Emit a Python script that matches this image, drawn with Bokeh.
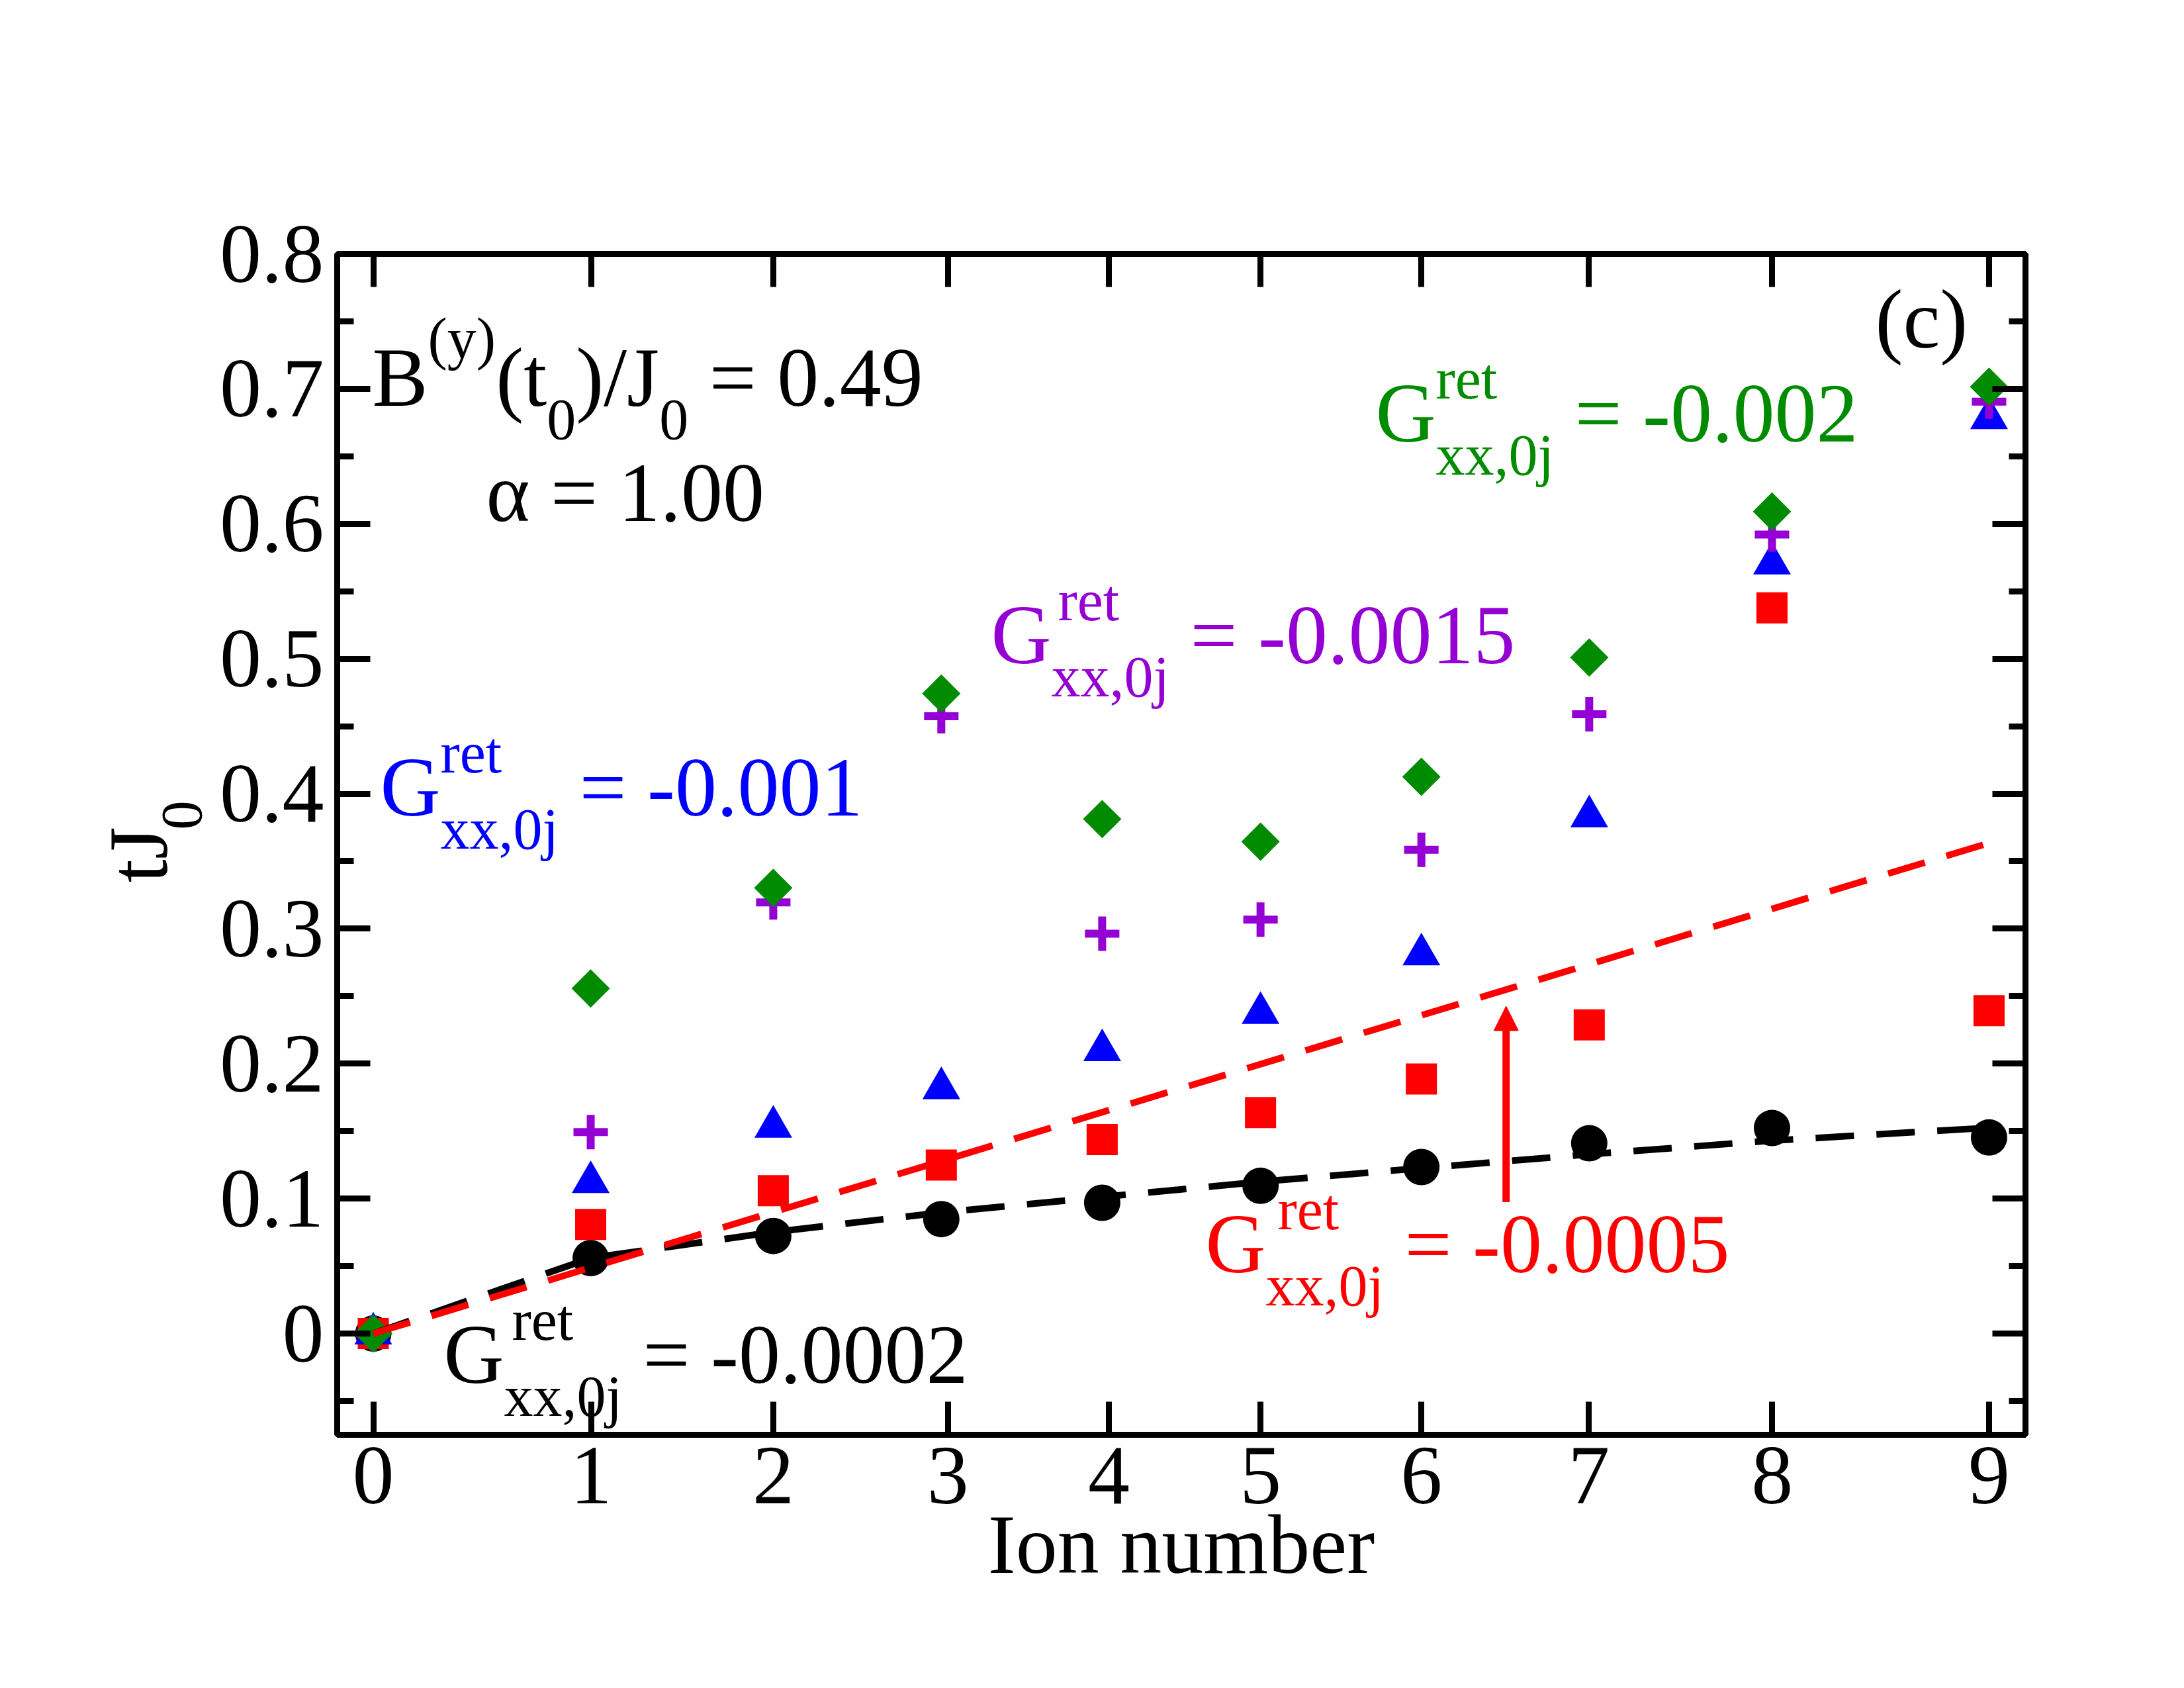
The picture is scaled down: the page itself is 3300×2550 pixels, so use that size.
import math
from bokeh.plotting import figure
from bokeh.models import (Range1d, FixedTicker, LinearAxis, Label, Arrow,
                          NormalHead, CustomJSTickFormatter)
from bokeh.embed import file_html
from bokeh.resources import INLINE

# ---------------- data ----------------
ion_positions = [0.0, 1.211, 2.228, 3.164, 4.060, 4.942, 5.838, 6.773, 7.791, 9.0]
tick_positions = [0.0, 1.213, 2.228, 3.201, 4.097, 4.942, 5.838, 6.771, 7.792, 9.0]
tick_labels = ["0", "1", "2", "3", "4", "5", "6", "7", "8", "9"]

y_ticks = [0.0, 0.1, 0.2, 0.3, 0.4, 0.5, 0.6, 0.7, 0.8]
y_tick_labels = ["0", "0.1", "0.2", "0.3", "0.4", "0.5", "0.6", "0.7", "0.8"]
y_minor_ticks = [-0.05, 0.05, 0.15, 0.25, 0.35, 0.45, 0.55, 0.65, 0.75]

t_g0002 = [0.0, 0.0559, 0.0723, 0.0848, 0.0969, 0.1095, 0.1234, 0.1410, 0.1523, 0.1453]
t_g0005 = [0.0, 0.0809, 0.1059, 0.1249, 0.1438, 0.1637, 0.1886, 0.2287, 0.5377, 0.2393]
t_g0010 = [0.0, 0.1122, 0.1532, 0.1818, 0.2099, 0.2375, 0.2809, 0.3832, 0.5705, 0.6782]
t_g0015 = [0.0, 0.1493, 0.3194, 0.4574, 0.2963, 0.3067, 0.3585, 0.4589, 0.5920, 0.6905]
t_g0020 = [0.0, 0.2557, 0.3303, 0.4742, 0.3812, 0.3645, 0.4125, 0.5009, 0.6091, 0.7015]

fit_black = [0.0, 0.0560, 0.0752, 0.0897, 0.1012, 0.1125, 0.1226, 0.1328, 0.1430, 0.1525]
fit_red_x = [0.0, 9.0]
fit_red_y = [0.0, 0.3635]

arrow_x = 6.310
arrow_y = [0.0974, 0.2426]

# ---------------- colours / fonts ----------------
BLACK = "#000000"
RED = "#ff0000"
BLUE = "#0000ff"
PURPLE = "#9400d3"
GREEN = "#008b00"
FONT = "Liberation Serif"
MAIN = 126
SCRIPT = 88
NBSP = "\u00a0"

W, H = 3284, 2534

# ---------------- figure ----------------
p = figure(width=W, height=H,
           x_range=Range1d(-0.201, 9.203), y_range=Range1d(-0.075, 0.8),
           output_backend="svg", toolbar_location=None,
           min_border_left=509, min_border_right=224,
           min_border_top=383, min_border_bottom=367)
p.background_fill_color = "white"
p.border_fill_color = "white"
p.grid.visible = False
p.outline_line_color = "black"
p.outline_line_width = 9


def style_axis(ax):
    ax.axis_line_width = 9
    ax.axis_line_color = "black"
    ax.major_tick_line_width = 9
    ax.minor_tick_line_width = 9
    ax.major_tick_in = 50
    ax.major_tick_out = 0
    ax.minor_tick_in = 25
    ax.minor_tick_out = 0
    ax.major_label_text_font = FONT
    ax.major_label_text_font_size = f"{MAIN}px"
    ax.major_label_text_color = "black"


def style_title(ax, size, standoff):
    ax.axis_label_text_font = FONT
    ax.axis_label_text_font_size = f"{size}px"
    ax.axis_label_text_font_style = "normal"
    ax.axis_label_text_color = "black"
    ax.axis_label_standoff = standoff


xb = p.xaxis[0]
xb.ticker = FixedTicker(ticks=tick_positions, minor_ticks=[])
xb.major_label_overrides = {t: l for t, l in zip(tick_positions, tick_labels)}
style_axis(xb)
xb.major_label_standoff = 19
xb.axis_label = "Ion number"
style_title(xb, MAIN, -10)

yl = p.yaxis[0]
yl.ticker = FixedTicker(ticks=y_ticks, minor_ticks=y_minor_ticks)
yl.major_label_overrides = {t: l for t, l in zip(y_ticks, y_tick_labels)}
style_axis(yl)
yl.major_label_standoff = 20
# subscript "0" of tJ_0 (leading no-break spaces move it up along the axis)
yl.axis_label = NBSP * 4 + "0"
style_title(yl, SCRIPT, 6)

# outer left axis, carrying only the "tJ" part of the y title
yt = LinearAxis(ticker=FixedTicker(ticks=[], minor_ticks=[]),
                formatter=CustomJSTickFormatter(code="return ''"))
yt.axis_line_color = None
yt.major_tick_line_color = None
yt.minor_tick_line_color = None
yt.major_tick_in = 0
yt.major_tick_out = 0
yt.minor_tick_in = 0
yt.minor_tick_out = 0
yt.major_label_standoff = 0
yt.axis_label = "tJ" + NBSP
style_title(yt, MAIN, -56)
p.add_layout(yt, "left")

blank = "return ''"
xt = LinearAxis(ticker=FixedTicker(ticks=tick_positions, minor_ticks=[]),
                formatter=CustomJSTickFormatter(code=blank))
style_axis(xt)
p.add_layout(xt, "above")
yr = LinearAxis(ticker=FixedTicker(ticks=y_ticks, minor_ticks=y_minor_ticks),
                formatter=CustomJSTickFormatter(code=blank))
style_axis(yr)
p.add_layout(yr, "right")

# ---------------- markers ----------------
p.scatter(ion_positions, t_g0002, marker="circle", size=55,
          fill_color=BLACK, line_color=None)
p.scatter(ion_positions, t_g0005, marker="square", size=47,
          fill_color=RED, line_color=None)
p.scatter(ion_positions, t_g0010, marker="triangle", size=57,
          fill_color=BLUE, line_color=None)
p.scatter(ion_positions, t_g0015, marker="cross", size=52,
          line_color=PURPLE, line_width=12)
p.scatter(ion_positions, t_g0020, marker="square", size=41, angle=math.pi / 4,
          fill_color=GREEN, line_color=None)

# ---------------- fit lines ----------------
p.line(ion_positions, fit_black, line_color=BLACK, line_width=10,
       line_dash="58 34")
p.line(fit_red_x, fit_red_y, line_color=RED, line_width=10,
       line_dash="58 34")

p.add_layout(Arrow(end=NormalHead(size=37, fill_color=RED, line_color=RED),
                   x_start=arrow_x, y_start=arrow_y[0],
                   x_end=arrow_x, y_end=arrow_y[1],
                   line_color=RED, line_width=11))

# ---------------- text ----------------
X0_PX, XS = 563.5, 271.28   # page px of x=0, px per unit
Y0_PX, YS = 383.0, 2039.0   # page px of y=0.8, px per unit
BASE_FIX = 0.33             # baseline correction, in em

ADV = {' ': 0.25, '(': 0.333, ')': 0.333, ',': 0.25, '-': 0.333, '.': 0.25,
       '/': 0.278, '=': 0.564, 'B': 0.667, 'G': 0.722, 'J': 0.389, 'e': 0.444,
       'j': 0.278, 'r': 0.333, 't': 0.278, 'x': 0.5, 'y': 0.5, 'c': 0.444}
for d in "0123456789":
    ADV[d] = 0.5


def adv(s, size):
    return sum(ADV[c] for c in s) * size


def px2x(px):
    return (px - X0_PX) / XS


def px2y(py):
    return 0.8 - (py - Y0_PX) / YS


def put(text, px, py, size, color, align="left"):
    py = py - BASE_FIX * size
    p.add_layout(Label(x=px2x(px), y=px2y(py), text=text, text_font=FONT,
                       text_font_size=f"{size}px", text_color=color,
                       text_baseline="alphabetic", text_align=align))


def g_label(value_text, px, py, color, sup_extra):
    put("G", px, py, MAIN, color)
    gx = px + adv("G", MAIN)
    put("ret", gx + sup_extra, py - 65, SCRIPT, color)
    put("xx,0j", gx, py + 50, SCRIPT, color)
    put("= " + value_text, gx + adv("xx,0j", SCRIPT) + adv(" ", MAIN), py, MAIN, color)


g_label("-0.0002", 670, 2088, BLACK, 12)
g_label("-0.0005", 1821, 1921, RED, 18)
g_label("-0.001", 574, 1231, BLUE, 0)
g_label("-0.0015", 1497, 1001, PURPLE, 10)
g_label("-0.002", 2078, 666, GREEN, 0)

# B^(y)(t_0)/J_0 = 0.49
bx, by = 562, 612
put("B", bx, by, MAIN, BLACK); bx += adv("B", MAIN)
put("(y)", bx, by - 72, SCRIPT, BLACK); bx += adv("(y)", SCRIPT)
put("(t", bx, by, MAIN, BLACK); bx += adv("(t", MAIN)
put("0", bx, by + 51, SCRIPT, BLACK); bx += adv("0", SCRIPT)
put(")/J", bx, by, MAIN, BLACK); bx += adv(")/J", MAIN)
put("0", bx, by + 51, SCRIPT, BLACK); bx += adv("0", SCRIPT)
put("= 0.49", bx + adv(" ", MAIN), by, MAIN, BLACK)

put("\u03b1 = 1.00", 734, 786, MAIN, BLACK)
put("(c)", 2833, 524, MAIN, BLACK)

open("out.html", "w").write(file_html(p, INLINE))
